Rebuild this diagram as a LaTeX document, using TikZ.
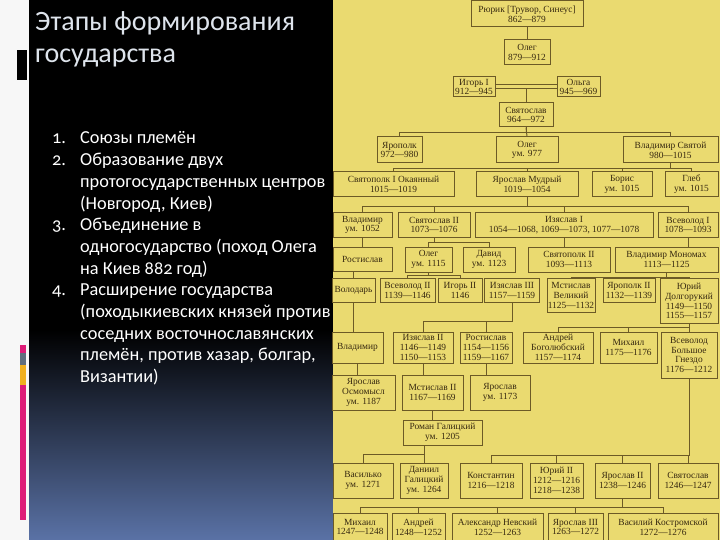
\documentclass[tikz,border=0pt]{standalone}
\usepackage{fontspec}
\setmainfont{Carlito}[Numbers=OldStyle]
\newfontfamily\scanfont{Liberation Serif}
\usepackage{array}

\definecolor{scan}{RGB}{234,218,112}
\definecolor{boxline}{RGB}{108,90,38}
\definecolor{ink}{RGB}{54,40,16}
\definecolor{titlegray}{RGB}{222,228,236}
\definecolor{navy}{RGB}{90,114,166}
\definecolor{barpink}{RGB}{222,28,120}
\definecolor{bargray}{RGB}{96,110,126}
\definecolor{baryellow}{RGB}{240,176,32}

\begin{document}
\begin{tikzpicture}[x=1pt,y=-1pt,
    box/.style 2 args={draw=boxline, line width=1pt, minimum width=#1, minimum height=#2,
        inner sep=0.3pt, align=center, text=ink, font=\scanfont\fontsize{9.4}{9.8}\selectfont},
    link/.style={draw=boxline, line width=1pt}]
\useasboundingbox (0,0) rectangle (720,540);

% slide background
\fill[white!97!black] (0,0) rectangle (29,540);
\fill[black] (29,0) rectangle (333,540);
\shade[top color=black, bottom color=navy] (29,330) rectangle (333,540);
\fill[black] (17,50) rectangle (27,80);
\fill[barpink] (20,345) rectangle (26,353);
\fill[bargray] (20,353) rectangle (26,365);
\fill[baryellow] (20,365) rectangle (26,385);
\fill[barpink] (20,385) rectangle (26,520);

% title and list
\node[anchor=base west, inner sep=0, text=titlegray, font=\fontsize{28}{32}\selectfont, align=left] (title) at (35,63) {Этапы формирования\\государства};
\node[anchor=base west, inner sep=0, text=white, font=\fontsize{18.3}{21.7}\selectfont] (stages) at (52,144) {%
    \begin{tabular}[t]{@{}p{28pt}@{}l@{}}
    1. & Союзы племён\\
    2. & Образование двух\\
       & протогосударственных центров\\
       & (Новгород, Киев)\\
    3. & Объединение в\\
       & одногосударство (поход Олега\\
       & на Киев 882 год)\\
    4. & Расширение государства\\
       & (походыкиевских князей против\\
       & соседних восточнославянских\\
       & племён, против хазар, болгар,\\
       & Византии)
    \end{tabular}};

% scanned table
\fill[scan] (333,0) rectangle (720,540);

\node[box={112}{26}] (rurik) at (527,14) {Рюрик [Трувор, Синеус]\\862—879};
\node[box={46}{25}] (oleg) at (527,52.5) {Олег\\879—912};
\node[box={42}{20}] (igor) at (474,87) {Игорь I\\912—945};
\node[box={43}{20}] (olga) at (578.5,87) {Ольга\\945—969};
\node[box={54}{24}] (svyat) at (526,115) {Святослав\\964—972};

\node[box={45}{26}] (yaropolk) at (399.5,150) {Ярополк\\972—980};
\node[box={62}{26}] (oleg2) at (527,150) {Олег\\ум. 977};
\node[box={95}{26}] (vladimir1) at (670.5,150) {Владимир Святой\\980—1015};

\node[box={121}{25}] (svyatopolk1) at (393.5,184.5) {Святополк I Окаянный\\1015—1019};
\node[box={102}{25}] (yaroslav) at (527,184.5) {Ярослав Мудрый\\1019—1054};
\node[box={60}{25}] (boris) at (622,184.5) {Борис\\ум. 1015};
\node[box={53}{25}] (gleb) at (691.5,184.5) {Глеб\\ум. 1015};

\node[box={59}{24}] (vladimir2) at (362.5,225) {Владимир\\ум. 1052};
\node[box={72}{24}] (svyat2) at (434,225) {Святослав II\\1073—1076};
\node[box={178}{24}] (izyaslav1) at (564,225) {Изяслав I\\1054—1068, 1069—1073, 1077—1078};
\node[box={60}{24}] (vsevolod1) at (688,225) {Всеволод I\\1078—1093};

\node[box={59}{24}] (rostislav1) at (362.5,259) {Ростислав};
\node[box={47}{25}] (oleg3) at (428.5,259.5) {Олег\\ум. 1115};
\node[box={52}{25}] (david) at (489,259.5) {Давид\\ум. 1123};
\node[box={82}{25}] (svyatopolk2) at (569,259.5) {Святополк II\\1093—1113};
\node[box={103}{25}] (monomakh) at (666.5,259.5) {Владимир Мономах\\1113—1125};

\node[box={43}{24}] (volodar) at (353.5,290.5) {Володарь};
\node[box={55}{24}] (vsevolod2) at (407.5,290.5) {Всеволод II\\1139—1146};
\node[box={44}{24}] (igor2) at (460,290.5) {Игорь II\\1146};
\node[box={55}{24}] (izyaslav3) at (512,290.5) {Изяслав III\\1157—1159};
\node[box={48}{34}] (mstislav) at (571,295.5) {Мстислав\\Великий\\1125—1132};
\node[box={52}{24}] (yaropolk2) at (629,290.5) {Ярополк II\\1132—1139};
\node[box={58}{45}] (yuri) at (689,301) {Юрий\\Долгорукий\\1149—1150\\1155—1157};

\node[box={51}{31}] (vladimir3) at (357.5,347.5) {Владимир};
\node[box={60}{31}] (izyaslav2) at (423,347.5) {Изяслав II\\1146—1149\\1150—1153};
\node[box={52}{31}] (rostislav2) at (486,347.5) {Ростислав\\1154—1156\\1159—1167};
\node[box={70}{31}] (andrei) at (558,347.5) {Андрей\\Боголюбский\\1157—1174};
\node[box={57}{31}] (mikhail) at (628.5,347.5) {Михаил\\1175—1176};
\node[box={56}{46}] (vsevolod3) at (689,355) {Всеволод\\Большое\\Гнездо\\1176—1212};

\node[box={63}{35}] (yaroslavosm) at (363.5,392.5) {Ярослав\\Осмомысл\\ум. 1187};
\node[box={61}{35}] (mstislav2) at (432.5,392.5) {Мстислав II\\1167—1169};
\node[box={60}{35}] (yaroslav4) at (500,392.5) {Ярослав\\ум. 1173};

\node[box={79}{25}] (roman) at (442.5,432.5) {Роман Галицкий\\ум. 1205};

\node[box={60}{35}] (vasilko) at (363,480.5) {Василько\\ум. 1271};
\node[box={48}{35}] (daniil) at (424,480.5) {Даниил\\Галицкий\\ум. 1264};
\node[box={62}{35}] (konstantin) at (491,480.5) {Константин\\1216—1218};
\node[box={53}{35}] (yuri2) at (556.5,480.5) {Юрий II\\1212—1216\\1218—1238};
\node[box={55}{35}] (yaroslav2) at (622.5,480.5) {Ярослав II\\1238—1246};
\node[box={60}{35}] (svyat3) at (688,480.5) {Святослав\\1246—1247};

\node[box={54}{27}] (mikhail2) at (360,527) {Михаил\\1247—1248};
\node[box={53}{27}] (andrei2) at (418.5,527) {Андрей\\1248—1252};
\node[box={91}{27}] (alexander) at (497.5,527) {Александр Невский\\1252—1263};
\node[box={55}{27}] (yaroslav3) at (575.5,527) {Ярослав III\\1263—1272};
\node[box={110}{27}] (vasili) at (663,527) {Василий Костромской\\1272—1276};

% lines of descent
\draw[link] (rurik) -- (oleg);
\draw[link] (igor.east -| svyat) -- (svyat);
\draw[link, double=scan, double distance=3pt] (igor) -- (olga);

\draw[link] (svyat.south) -- ++(0,5) -| (yaropolk.north);
\draw[link] (svyat.south) -- (oleg2.north);
\draw[link] (svyat.south) -- ++(0,5) -| (vladimir1.north);

\draw[link] (vladimir1.south) -- ++(0,5) -| (svyatopolk1.north);
\draw[link] (vladimir1.south) -- ++(0,5) -| (yaroslav.north);
\draw[link] (vladimir1.south) -- ++(0,5) -| (boris.north);
\draw[link] (vladimir1.south) -- ++(0,5) -| (gleb.north);

\draw[link] (yaroslav.south) -- ++(0,9) -| (vladimir2.north);
\draw[link] (yaroslav.south) -- ++(0,9) -| (svyat2.north);
\draw[link] (yaroslav.south) -- ++(0,9) -| (izyaslav1.north);
\draw[link] (yaroslav.south) -- ++(0,9) -| (vsevolod1.north);

\draw[link] (vladimir2) -- (rostislav1);
\draw[link] (svyat2.south) -- ++(0,5) -| (oleg3.north);
\draw[link] (svyat2.south) -- ++(0,5) -| (david.north);
\draw[link] (izyaslav1.south) -- (izyaslav1.south |- svyatopolk2.north);
\draw[link] (vsevolod1.south) -- (vsevolod1.south |- monomakh.north);

\draw[link] (volodar.north |- rostislav1.south) -- (volodar.north);
\draw[link] (oleg3.south) -- ++(0,3) -| (vsevolod2.north);
\draw[link] (oleg3.south) -- ++(0,3) -| (igor2.north);
\draw[link] (monomakh.south) -- ++(0,5) -| (mstislav.north);
\draw[link] (monomakh.south) -- ++(0,5) -| (yaropolk2.north);
\draw[link] (monomakh.south) -- ++(0,5) -| (yuri.north);

\draw[link] (volodar.south) -- (volodar.south |- vladimir3.north);
\draw[link] (izyaslav3.south) -- ++(0,18) -| (izyaslav2.north);
\draw[link] (izyaslav3.south) -- ++(0,18) -| (rostislav2.north);
\draw[link] (yuri.south) -- ++(0,3) -| (andrei.north);
\draw[link] (yuri.south) -- ++(0,3) -| (mikhail.north);
\draw[link] (yuri.south) -- (vsevolod3.north);

\draw[link] (vladimir3.south) -- (vladimir3.south |- yaroslavosm.north);
\draw[link] (izyaslav2.south) -- (izyaslav2.south |- mstislav2.north);
\draw[link] (rostislav2.south) -- (rostislav2.south |- yaroslav4.north);
\draw[link] (mstislav2.south) -- (mstislav2.south |- roman.north);

\draw[link] (daniil.north |- roman.south) -- (daniil.north);
\draw[link] (vasilko.north) -- ++(0,-8) -| (daniil.north);
\draw[link] (vsevolod3.south) -- ++(0,77) -| (konstantin.north);
\draw[link] (vsevolod3.south) -- ++(0,77) -| (yuri2.north);
\draw[link] (vsevolod3.south) -- ++(0,77) -| (yaroslav2.north);
\draw[link] (vsevolod3.south) -- ++(0,77) -| (svyat3.north);

\draw[link] (yaroslav2.south) -- ++(0,9) -| (mikhail2.north);
\draw[link] (yaroslav2.south) -- ++(0,9) -| (andrei2.north);
\draw[link] (yaroslav2.south) -- ++(0,9) -| (alexander.north);
\draw[link] (yaroslav2.south) -- ++(0,9) -| (yaroslav3.north);
\draw[link] (yaroslav2.south) -- ++(0,9) -| (vasili.north);
\end{tikzpicture}
\end{document}
